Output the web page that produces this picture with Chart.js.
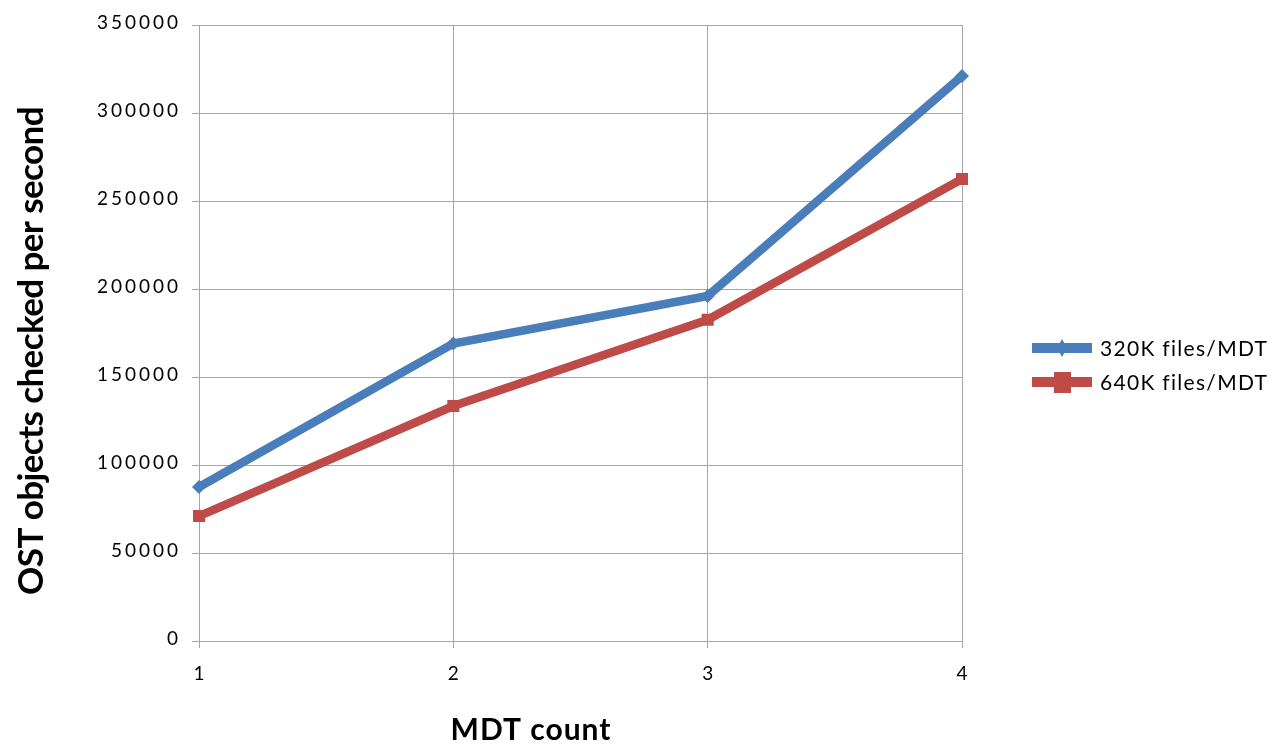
<!DOCTYPE html>
<html>
<head>
<meta charset="utf-8">
<script src="https://cdn.jsdelivr.net/npm/chart.js@4"></script>
<style>
html,body{margin:0;padding:0;background:#fff;}
#wrap{width:1275px;height:745px;position:relative;}
</style>
</head>
<body>
<div id="wrap"><canvas id="c" width="1275" height="745"></canvas></div>
<script>
const categories = ['1', '2', '3', '4'];
const series320K = [87500, 169000, 196000, 321000];
const series640K = [71000, 133500, 182500, 262500];
const seriesNames = ['320K files/MDT', '640K files/MDT'];
const yTitle = 'OST objects checked per second';
const xTitle = 'MDT count';

const FONT = 'Lato, "Open Sans", sans-serif';

const spacingPlugin = {
  id: 'tickSpacing',
  beforeLayout(chart) { chart.ctx.letterSpacing = '3px'; },
  beforeDraw(chart) { chart.ctx.letterSpacing = '3px'; }
};

const overlayPlugin = {
  id: 'overlay',
  afterDraw(chart) {
    const ctx = chart.ctx;
    ctx.save();
    ctx.fillStyle = '#000';
    // Y title
    ctx.save();
    ctx.letterSpacing = '-0.6px';
    ctx.font = 'bold 35px ' + FONT;
    ctx.textAlign = 'center';
    ctx.textBaseline = 'alphabetic';
    ctx.translate(43, 351);
    ctx.rotate(-Math.PI / 2);
    ctx.fillText(yTitle, 0, 0);
    ctx.restore();
    // X title
    ctx.save();
    ctx.letterSpacing = '1px';
    ctx.font = 'bold 30px ' + FONT;
    ctx.textAlign = 'center';
    ctx.textBaseline = 'alphabetic';
    ctx.fillText(xTitle, 531, 740);
    ctx.restore();
    // Legend
    const x0 = 1032, x1 = 1092, tx = 1100;
    const ys = [348, 382];
    chart.data.datasets.forEach((ds, i) => {
      const y = ys[i];
      ctx.save();
      ctx.strokeStyle = ds.borderColor;
      ctx.lineWidth = 10;
      ctx.beginPath();
      ctx.moveTo(x0, y); ctx.lineTo(x1, y);
      ctx.stroke();
      ctx.fillStyle = ds.borderColor;
      const mx = (x0 + x1) / 2;
      if (ds.pointStyle === 'rectRot') {
        ctx.beginPath();
        ctx.moveTo(mx, y - 9); ctx.lineTo(mx + 5, y); ctx.lineTo(mx, y + 9); ctx.lineTo(mx - 5, y);
        ctx.closePath(); ctx.fill();
      } else {
        ctx.fillRect(mx - 8, y - 10, 17, 21);
      }
      ctx.fillStyle = '#000';
      ctx.letterSpacing = '1.3px';
      ctx.font = '21px ' + FONT;
      ctx.textBaseline = 'middle';
      ctx.textAlign = 'left';
      ctx.fillText(ds.label, tx, y + 1);
      ctx.restore();
    });
    ctx.restore();
  }
};

new Chart(document.getElementById('c'), {
  type: 'line',
  data: {
    labels: categories,
    datasets: [
      {
        label: seriesNames[0],
        data: series320K,
        borderColor: '#4a7ebb',
        backgroundColor: '#4a7ebb',
        borderWidth: 8.5,
        pointStyle: 'rectRot',
        pointRadius: 7,
        pointBorderWidth: 0,
        tension: 0,
        borderCapStyle: 'butt'
      },
      {
        label: seriesNames[1],
        data: series640K,
        borderColor: '#be4b48',
        backgroundColor: '#be4b48',
        borderWidth: 8.5,
        pointStyle: 'rect',
        pointRadius: 8.5,
        pointBorderWidth: 0,
        tension: 0,
        borderCapStyle: 'butt'
      }
    ]
  },
  options: {
    responsive: false,
    animation: false,
    layout: { padding: { left: 0, top: 25, right: 313, bottom: 0 } },
    plugins: { legend: { display: false }, tooltip: { enabled: false } },
    scales: {
      x: {
        offset: false,
        grid: { color: '#a6a6a6', lineWidth: 1, tickLength: 7, drawTicks: true },
        border: { color: '#a6a6a6', width: 1 },
        ticks: { color: '#000', font: { family: FONT, size: 19 }, padding: 14, labelOffset: 1.5 },
        title: { display: false },
        afterFit(scale) { scale.height = 104; }
      },
      y: {
        min: 0, max: 350000,
        grid: { color: '#a6a6a6', lineWidth: 1, tickLength: 7 },
        border: { color: '#a6a6a6', width: 1 },
        ticks: {
          stepSize: 50000, color: '#000', font: { family: FONT, size: 19 }, padding: 11,
          labelOffset: -2,
          callback: (v) => String(v)
        },
        title: { display: false },
        afterFit(scale) { scale.width = 199; }
      }
    }
  },
  plugins: [spacingPlugin, overlayPlugin]
});
</script>
</body>
</html>
